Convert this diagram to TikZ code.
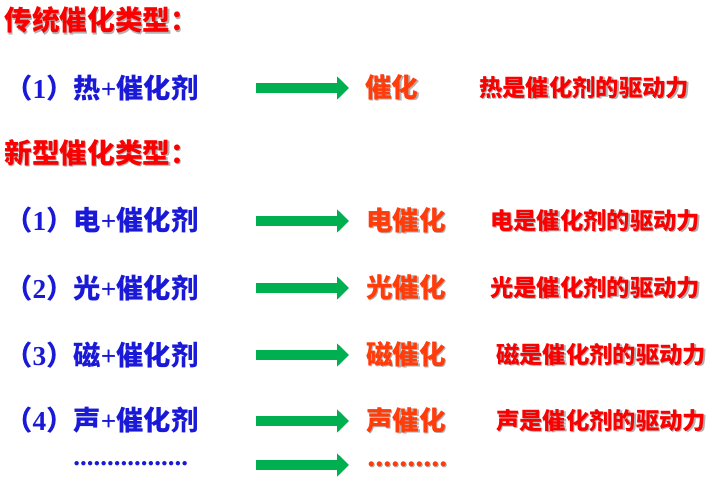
\documentclass[tikz,border=0pt]{standalone}
\usepackage{fontspec}
\setmainfont{Noto Sans CJK SC}
\newfontfamily\latn{Liberation Serif}
\usetikzlibrary{arrows.meta}
\definecolor{titlered}{RGB}{250,0,0}
\definecolor{catblue}{RGB}{25,25,215}
\definecolor{catorange}{RGB}{255,60,10}
\definecolor{arrowgreen}{RGB}{0,176,80}
\newcommand{\shd}[1]{\rlap{\kern0.9pt\raisebox{-0.9pt}{\color{black!30}#1}}#1}
\newcommand{\lt}[1]{{\latn\bfseries #1}}

\begin{document}
\begin{tikzpicture}[x=0.75pt,y=-0.75pt,
    every node/.style={anchor=west, inner sep=0pt},
    heading/.style={text=titlered, font=\bfseries\fontsize{20.8}{24}\selectfont},
    source/.style={text=catblue, font=\bfseries\fontsize{20.5}{24}\selectfont},
    result/.style={text=catorange, font=\bfseries\fontsize{20}{24}\selectfont},
    drive/.style={text=titlered, font=\bfseries\fontsize{17.5}{20}\selectfont},
    bigarrow/.style={arrowgreen, line width=8pt, -{Triangle[length=9pt,width=17pt]}}]
    \useasboundingbox (0,0) rectangle (713,482);

    % traditional
    \node[heading] (old) at (4,21) {\shd{传统催化类型：}};
    \node[source] (heat) at (5,88) {（\lt{1}）热\lt{+}催化剂};
    \coordinate (hs) at (256,88);
    \coordinate (he) at (349,88);
    \draw[bigarrow] (hs) -- (he);
    \node[result] (heatcat) at (365,88) {\shd{催化}};
    \node[drive] (heatwhy) at (479,88) {\shd{热是催化剂的驱动力}};

    % new types
    \node[heading] (new) at (4,153) {\shd{新型催化类型：}};

    \node[source] (elec) at (5,220) {（\lt{1}）电\lt{+}催化剂};
    \coordinate (es) at (256,221);
    \coordinate (ee) at (349,221);
    \draw[bigarrow] (es) -- (ee);
    \node[result] (eleccat) at (366,221) {\shd{电催化}};
    \node[drive] (elecwhy) at (490,221) {\shd{电是催化剂的驱动力}};

    \node[source] (light) at (5,288) {（\lt{2}）光\lt{+}催化剂};
    \coordinate (ls) at (256,288);
    \coordinate (le) at (349,288);
    \draw[bigarrow] (ls) -- (le);
    \node[result] (lightcat) at (366,288) {\shd{光催化}};
    \node[drive] (lightwhy) at (490,288) {\shd{光是催化剂的驱动力}};

    \node[source] (magn) at (5,355) {（\lt{3}）磁\lt{+}催化剂};
    \coordinate (ms) at (256,355);
    \coordinate (me) at (349,355);
    \draw[bigarrow] (ms) -- (me);
    \node[result] (magncat) at (366,355) {\shd{磁催化}};
    \node[drive] (magnwhy) at (496,355) {\shd{磁是催化剂的驱动力}};

    \node[source] (sound) at (5,420) {（\lt{4}）声\lt{+}催化剂};
    \coordinate (ss) at (256,421);
    \coordinate (se) at (349,421);
    \draw[bigarrow] (ss) -- (se);
    \node[result] (soundcat) at (366,421) {\shd{声催化}};
    \node[drive] (soundwhy) at (496,421) {\shd{声是催化剂的驱动力}};

    % and so on
    \node[text=catblue, font=\latn\bfseries\fontsize{20.25}{24}\selectfont] (more) at (73,464) {.................};
    \coordinate (os) at (256,465);
    \coordinate (oe) at (349,465);
    \draw[bigarrow] (os) -- (oe);
    \node[text=catorange, font=\latn\bfseries\fontsize{24}{28}\selectfont] (morecat) at (367,465) {\shd{..........}};
\end{tikzpicture}
\end{document}
